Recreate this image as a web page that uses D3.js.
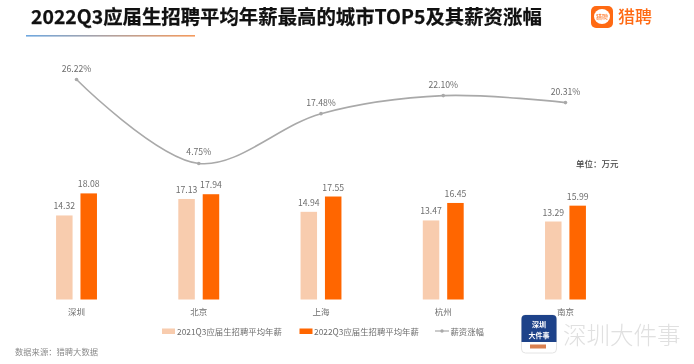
<!DOCTYPE html>
<html>
<head>
<meta charset="utf-8">
<script src="https://cdn.jsdelivr.net/npm/d3@7"></script>
<style>
  html, body { margin: 0; padding: 0; background: #fff; }
  svg { display: block; filter: blur(0.3px); }
  text { font-family: "Noto Sans CJK SC", "Noto Sans", sans-serif; }
</style>
</head>
<body>
<div id="chart"></div>
<script>
const cities = ['深圳', '北京', '上海', '杭州', '南京']
const salary2021 = [14.32, 17.13, 14.94, 13.47, 13.29]
const salary2022 = [18.08, 17.94, 17.55, 16.45, 15.99]
const growth = [26.22, 4.75, 17.48, 22.10, 20.31]
const legendNames = ['2021Q3应届生招聘平均年薪', '2022Q3应届生招聘平均年薪', '薪资涨幅']

const lightColor = '#f8ccae'
const darkColor = '#ff6600'
const lineColor = '#a9a9a9'
const textColor = '#6e6e6e'

const svg = d3.select('#chart')
  .append('svg')
  .attr('width', 694)
  .attr('height', 364)
  .attr('viewBox', '0 0 694 364')

const x = d3.scaleBand().domain(cities).range([15.4, 626.6])
const barY = d3.scaleLinear().domain([0, 18.08]).range([299.5, 193.4])
const lineY = d3.scaleLinear().domain([0, 26.22]).range([182, 79.5])
const barWidth = 16.5
const barOffset = 12.2

// gradient rule under the title
const grad = svg.append('defs').append('linearGradient').attr('id', 'rule')
grad.append('stop').attr('offset', '0%').attr('stop-color', '#6fa8e0')
grad.append('stop').attr('offset', '100%').attr('stop-color', '#f59a5c')

svg.append('text')
  .attr('x', 31)
  .attr('y', 24)
  .attr('font-size', 19.4)
  .attr('font-weight', 700)
  .attr('fill', '#111')
  .attr('stroke', '#111')
  .attr('stroke-width', 0.25)
  .text('2022Q3应届生招聘平均年薪最高的城市TOP5及其薪资涨幅')

svg.append('rect')
  .attr('x', 26).attr('y', 35)
  .attr('width', 169).attr('height', 1.6)
  .attr('fill', 'url(#rule)')

// bars
const center = d => x(d) + x.bandwidth() / 2
const addBars = (values, dx, color) => {
  svg.append('g').selectAll('rect')
    .data(cities)
    .join('rect')
    .attr('x', d => center(d) + dx - barWidth / 2)
    .attr('y', (d, i) => barY(values[i]))
    .attr('width', barWidth)
    .attr('height', (d, i) => barY(0) - barY(values[i]))
    .attr('fill', color)
  svg.append('g').selectAll('text')
    .data(cities)
    .join('text')
    .attr('x', d => center(d) + dx)
    .attr('y', (d, i) => barY(values[i]) - 6)
    .attr('text-anchor', 'middle')
    .attr('font-size', 8.7)
    .attr('fill', textColor)
    .text((d, i) => values[i].toFixed(2))
}
addBars(salary2021, -barOffset, lightColor)
addBars(salary2022, barOffset, darkColor)

// line
const line = d3.line()
  .x((d, i) => center(cities[i]))
  .y(d => lineY(d))
  .curve(d3.curveCatmullRom.alpha(0.5))

svg.append('path')
  .datum(growth)
  .attr('d', line)
  .attr('fill', 'none')
  .attr('stroke', lineColor)
  .attr('stroke-width', 1.6)

svg.append('g').selectAll('circle')
  .data(growth)
  .join('circle')
  .attr('cx', (d, i) => center(cities[i]))
  .attr('cy', d => lineY(d))
  .attr('r', 1.8)
  .attr('fill', lineColor)

svg.append('g').selectAll('text')
  .data(growth)
  .join('text')
  .attr('x', (d, i) => center(cities[i]))
  .attr('y', d => lineY(d) - 8)
  .attr('text-anchor', 'middle')
  .attr('font-size', 8.7)
  .attr('fill', textColor)
  .text(d => d.toFixed(2) + '%')

// x axis labels, no line
const xAxis = svg.append('g')
  .attr('transform', 'translate(0,299.5)')
  .call(d3.axisBottom(x).tickSize(0).tickPadding(9))
xAxis.select('.domain').remove()
xAxis.selectAll('text')
  .attr('font-family', null)
  .attr('font-size', 8.5)
  .attr('fill', textColor)

svg.append('text')
  .attr('x', 576).attr('y', 167)
  .attr('font-size', 8.5)
  .attr('font-weight', 500)
  .attr('fill', '#444')
  .text('单位：万元')

// legend
const legend = svg.append('g')
legend.append('rect').attr('x', 162).attr('y', 328.5).attr('width', 13).attr('height', 5.5).attr('fill', lightColor)
legend.append('text').attr('x', 177).attr('y', 334.5).text(legendNames[0])
legend.append('rect').attr('x', 299.5).attr('y', 328.5).attr('width', 13).attr('height', 5.5).attr('fill', darkColor)
legend.append('text').attr('x', 314).attr('y', 334.5).text(legendNames[1])
legend.append('line').attr('x1', 435).attr('x2', 449).attr('y1', 331).attr('y2', 331).attr('stroke', lineColor).attr('stroke-width', 1.2)
legend.append('circle').attr('cx', 442).attr('cy', 331).attr('r', 1.7).attr('fill', lineColor)
legend.append('text').attr('x', 450.5).attr('y', 334.5).text(legendNames[2])
legend.selectAll('text').attr('font-size', 8.4).attr('fill', textColor)

svg.append('text')
  .attr('x', 15).attr('y', 355)
  .attr('font-size', 8.3)
  .attr('fill', '#8a8a8a')
  .text('数据来源：猎聘大数据')

// liepin logo
const logo = svg.append('g')
logo.append('rect').attr('x', 591).attr('y', 6).attr('width', 22).attr('height', 22).attr('rx', 5).attr('fill', '#ff6a13')
logo.append('ellipse').attr('cx', 602).attr('cy', 16.5).attr('rx', 8).attr('ry', 7.5).attr('fill', '#fff')
logo.append('text').attr('x', 602).attr('y', 19).attr('text-anchor', 'middle').attr('font-size', 6).attr('fill', '#ff6a13').text('猎聘')
logo.append('text').attr('x', 618).attr('y', 23).attr('font-size', 17).attr('font-weight', 500).attr('fill', '#ff6a13').text('猎聘')

// watermark
const mark = svg.append('g')
mark.append('rect').attr('x', 521.5).attr('y', 315).attr('width', 35).attr('height', 38).attr('rx', 4).attr('fill', '#fff').attr('stroke', '#ddd').attr('stroke-width', 0.8)
mark.append('path').attr('d', 'M521.5 342V319a4 4 0 0 1 4-4h27a4 4 0 0 1 4 4v23z').attr('fill', '#1d4289')
mark.append('rect').attr('x', 530).attr('y', 344.5).attr('width', 16).attr('height', 4).attr('fill', '#d9804f')
mark.append('text').attr('x', 539).attr('y', 327).attr('text-anchor', 'middle').attr('font-size', 7).attr('font-weight', 700).attr('fill', '#fff').text('深圳')
mark.append('text').attr('x', 539).attr('y', 337.5).attr('text-anchor', 'middle').attr('font-size', 7).attr('font-weight', 700).attr('fill', '#fff').text('大件事')
mark.append('text').attr('x', 563).attr('y', 344).attr('font-size', 23.5).attr('font-weight', 300).attr('fill', '#e0e0e0').text('深圳大件事')
</script>
</body>
</html>
